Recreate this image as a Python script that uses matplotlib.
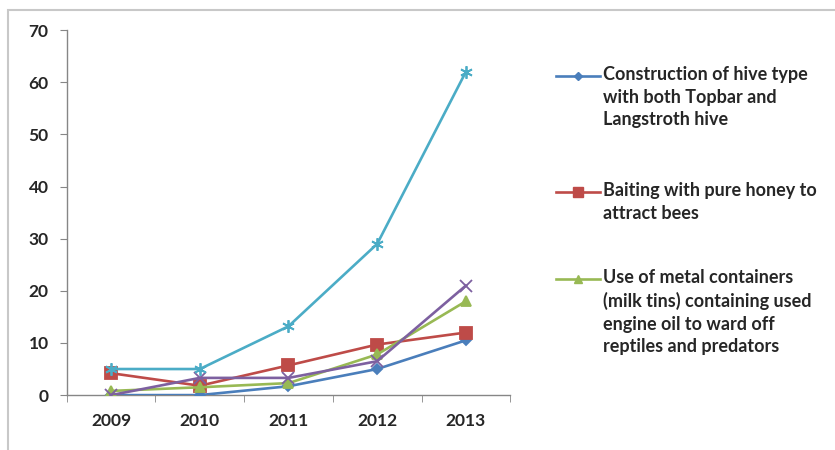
import matplotlib.pyplot as plt
from matplotlib.lines import Line2D
from matplotlib.patches import Rectangle

plt.rcParams['font.family'] = ['Lato', 'DejaVu Sans']

years = ['2009', '2010', '2011', '2012', '2013']
labels = [
    'Construction of hive type\nwith both Topbar and\nLangstroth hive',
    'Baiting with pure honey to\nattract bees',
    'Use of metal containers\n(milk tins) containing used\nengine oil to ward off\nreptiles and predators',
    'Series 4',
    'Series 5',
]
topbar = [0, 0, 1.7, 5, 10.5]
honey = [4.2, 1.8, 5.7, 9.7, 12]
tins = [0.8, 1.5, 2.3, 7.8, 18]
series4 = [0, 3.3, 3.3, 6.5, 21]
series5 = [5, 5, 13.2, 29, 62]

values = [topbar, honey, tins, series4, series5]
colors = ['#4A7EBB', '#BE4B48', '#98B954', '#7D60A0', '#4BACC6']
markers = ['D', 's', '^', 'x', (6, 2, 0)]
msizes = [5, 8, 7, 8, 9]

fig = plt.figure(figsize=(8.35, 4.5), dpi=100)
ax = fig.add_axes([0.080, 0.122, 0.531, 0.811])

x = range(1, len(years) + 1)
for vals, c, m, ms in zip(values, colors, markers, msizes):
    ax.plot(x, vals, color=c, lw=1.9, marker=m, markersize=ms,
            markeredgecolor=c, markeredgewidth=1.3, zorder=3)

ax.set_xlim(0.5, 5.5)
ax.set_ylim(0, 70)
ax.set_yticks(range(0, 71, 10))
ax.set_xticks(list(x))
ax.set_xticklabels(years)
ax.set_xticks([i + 0.5 for i in range(0, 6)], minor=True)
ax.tick_params(axis='x', which='major', length=0, pad=13)
ax.tick_params(axis='x', which='minor', length=5, color='#868686', direction='out')
ax.tick_params(axis='y', length=5, color='#868686', direction='out', pad=8)
for lab in ax.get_xticklabels() + ax.get_yticklabels():
    lab.set_fontsize(12.5)
    lab.set_fontweight('bold')
    lab.set_color('#262626')

for side in ['top', 'right']:
    ax.spines[side].set_visible(False)
for side in ['left', 'bottom']:
    ax.spines[side].set_color('#868686')
    ax.spines[side].set_linewidth(1.0)

# legend: only the first three series fit in the chart area
legend_y = [76, 192, 279]
for i in range(3):
    yf = 1 - legend_y[i] / 450
    fig.add_artist(Line2D([556 / 835, 600 / 835], [yf, yf], color=colors[i], lw=1.9,
                          transform=fig.transFigure))
    fig.add_artist(Line2D([578 / 835], [yf], color=colors[i], marker=markers[i],
                          markersize=msizes[i] - 1, markeredgecolor=colors[i],
                          transform=fig.transFigure))
    fig.text(603 / 835, yf + 10 / 450, labels[i], ha='left', va='top',
             fontsize=13, fontweight='bold', color='#262626', linespacing=1.4)

# outer chart border
fig.add_artist(Rectangle((8 / 835, -0.1), 1.0, 1 - 10 / 450 + 0.1,
                         transform=fig.transFigure, fill=False,
                         edgecolor='#c8c8c8', lw=1.5))

fig.savefig('out.png', dpi=100)
